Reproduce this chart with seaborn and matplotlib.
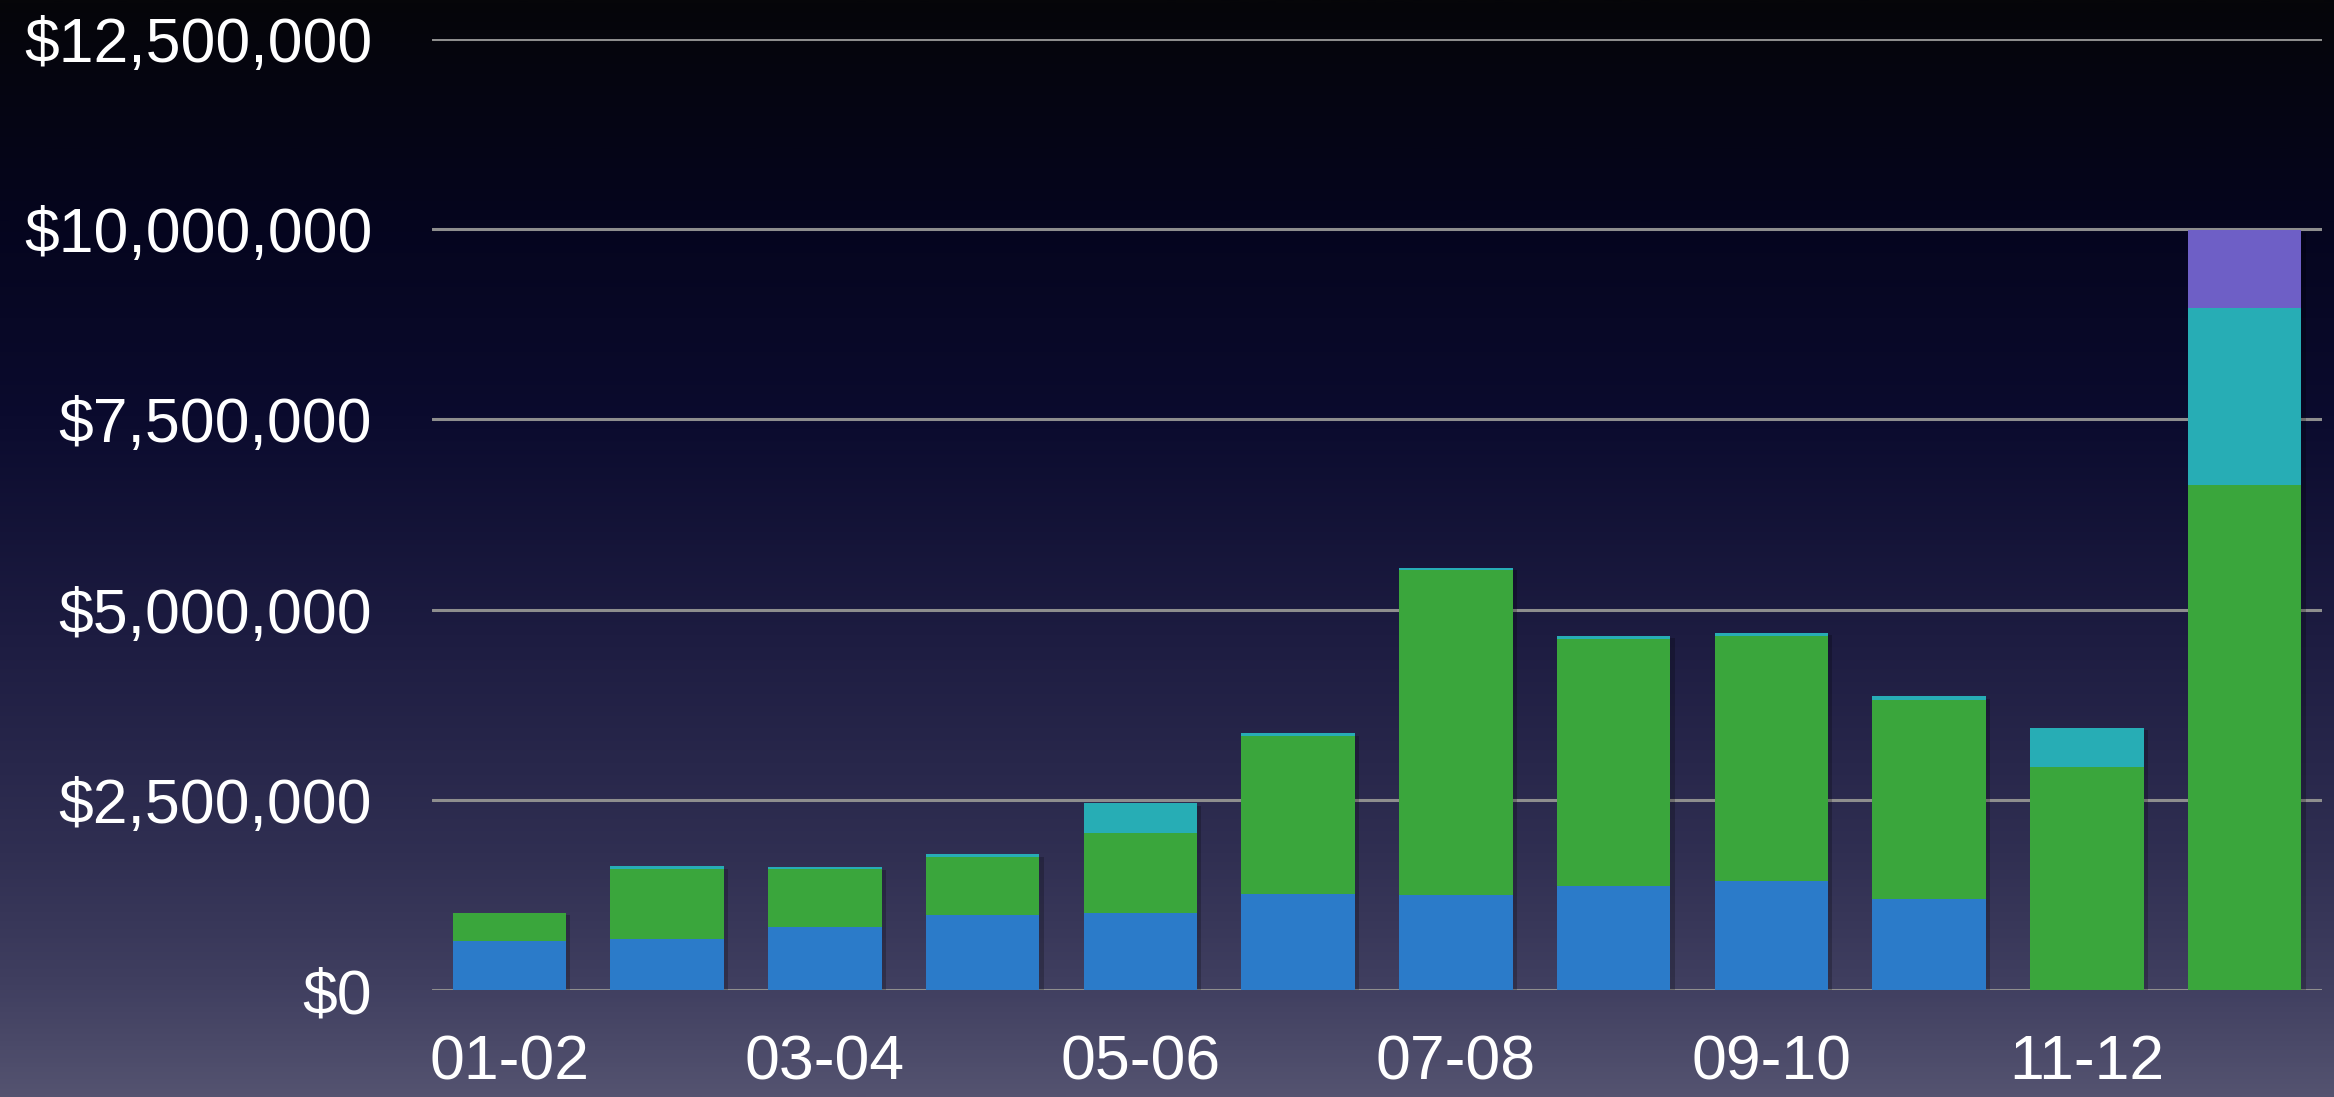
import numpy as np
import pandas as pd
import matplotlib
matplotlib.use("Agg")
import matplotlib.pyplot as plt
import matplotlib.patheffects as pe
from matplotlib.colors import LinearSegmentedColormap
from matplotlib.ticker import FuncFormatter
import seaborn as sns

# ---- data (dollars) ----
seasons = ["01-02", "02-03", "03-04", "04-05", "05-06", "06-07",
           "07-08", "08-09", "09-10", "10-11", "11-12", "12-13"]
blue_vals = [647000, 673000, 832000, 990000, 1016000, 1267000,
             1254000, 1373000, 1430000, 1201000, 0, 0]
green_vals = [369000, 924000, 765000, 756000, 1043000, 2073000,
              4267000, 3234000, 3229000, 2614000, 2930000, 6635000]
cyan_vals = [0, 27000, 15000, 36000, 396000, 39000,
             32000, 52000, 40000, 52000, 520000, 2330000]
purple_vals = [0, 0, 0, 0, 0, 0, 0, 0, 0, 0, 0, 1020000]
y_ticks = [0, 2500000, 5000000, 7500000, 10000000, 12500000]

colors = {"blue": "#2b7bc9", "green": "#3aa63c", "cyan": "#27adb5", "purple": "#6e5fc6"}

sns.set_theme(style="white")
plt.rcParams["font.family"] = ["Liberation Sans", "DejaVu Sans"]

df = pd.DataFrame({"season": seasons, "blue": blue_vals, "green": green_vals,
                   "cyan": cyan_vals, "purple": purple_vals})
df["c_blue"] = df["blue"]
df["c_green"] = df["c_blue"] + df["green"]
df["c_cyan"] = df["c_green"] + df["cyan"]
df["c_purple"] = df["c_cyan"] + df["purple"]

fig = plt.figure(figsize=(23.34, 10.97), dpi=100)

# background gradient
bg = fig.add_axes([0, 0, 1, 1], zorder=0)
cmap = LinearSegmentedColormap.from_list("bg", [
    (0.0, "#060609"), (0.2, "#05051e"), (0.38, "#0b0b2e"),
    (0.58, "#1d1c41"), (0.78, "#302f52"), (0.9, "#403f60"), (1.0, "#545370")])
grad = np.linspace(0, 1, 512).reshape(-1, 1)
bg.imshow(grad, aspect="auto", cmap=cmap, extent=[0, 1, 1, 0])
bg.set_axis_off()

ax = fig.add_axes([432 / 2334, 107 / 1097, (2322 - 432) / 2334, (990 - 39) / 1097], zorder=1)
ax.set_facecolor("none")

layers = [("c_purple", "purple"), ("c_cyan", "cyan"), ("c_green", "green"), ("c_blue", "blue")]
for i, (col, cname) in enumerate(layers):
    sns.barplot(data=df, x="season", y=col, color=colors[cname], width=0.72,
                saturation=1, linewidth=0, ax=ax, zorder=3, order=seasons)

# subtle shadow on the outermost bars
for p in ax.patches[:len(seasons)]:
    p.set_path_effects([pe.SimplePatchShadow(offset=(3, -2), alpha=0.22, shadow_rgbFace="black"),
                        pe.Normal()])

ax.set_ylim(0, 12500000)
ax.set_xlim(-0.49, 11.49)
ax.set_yticks(y_ticks)
ax.yaxis.set_major_formatter(FuncFormatter(lambda v, _: "${:,.0f}".format(v)))
ax.set_xticks(range(0, 12, 2))
ax.set_xticklabels(seasons[::2])
ax.grid(axis="y", color="#8e8e8e", linewidth=2.2, zorder=0)
ax.set_axisbelow(True)
for s in ax.spines.values():
    s.set_visible(False)
ax.tick_params(axis="both", length=0, colors="white")
ax.tick_params(axis="y", pad=43, labelsize=45)
ax.tick_params(axis="x", pad=31, labelsize=45)
ax.set_xlabel("")
ax.set_ylabel("")

fig.savefig("out.png", dpi=100)
